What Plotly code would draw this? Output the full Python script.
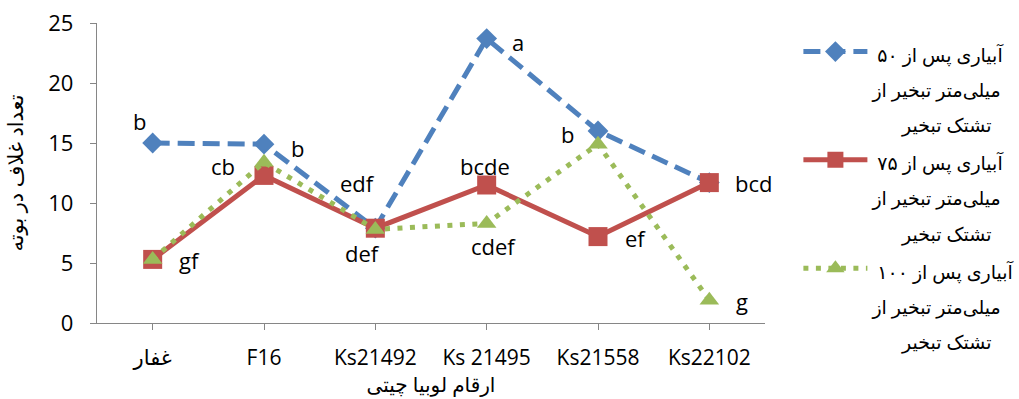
import plotly.graph_objects as go

# Cultivars of pinto bean (x axis)
cultivars = ["غفار", "F16", "Ks21492", "Ks 21495", "Ks21558", "Ks22102"]

# Pods per plant under three irrigation regimes
pods_50 = [15.0, 14.9, 7.9, 23.7, 16.0, 11.7]
pods_75 = [5.3, 12.3, 7.9, 11.5, 7.2, 11.7]
pods_100 = [5.3, 13.4, 7.8, 8.3, 14.9, 1.9]

# Mean-comparison letters (empty string = no letter drawn)
letters_50 = ["b", "b", "edf", "a", "b", ""]
letters_75 = ["gf", "", "def", "bcde", "ef", "bcd"]
letters_100 = ["", "cb", "", "cdef", "", "g"]

series_names = [
    ["آبیاری پس از ۵۰", "میلی‌متر تبخیر از", "تشتک تبخیر"],
    ["آبیاری پس از ۷۵", "میلی‌متر تبخیر از", "تشتک تبخیر"],
    ["آبیاری پس از ۱۰۰", "میلی‌متر تبخیر از", "تشتک تبخیر"],
]

BLUE = "#4F81BD"
RED = "#C0504D"
GREEN = "#9BBB59"
AXIS = "#868686"
FONT = "Open Sans, DejaVu Sans, sans-serif"

# pixel offsets of each letter from its point
offsets_50 = [(-13, -22), (33, 4), (-18, -45), (31, 3), (-31, 3), (0, 0)]
offsets_75 = [(37, 1), (0, 0), (-13, 25), (-2, -19), (37, 1), (44, 0)]
offsets_100 = [(0, 0), (-41, 4), (0, 0), (7, 23), (0, 0), (33, 1)]

# leading no-break spaces push the shorter lines so their right edges line up
PAD = [1, 0, 6]


def legend_name(lines):
    return "<br>".join(
        '<span style="font-size:19px">%s%s</span>' % ("\u00a0" * p, ln)
        for p, ln in zip(PAD, lines)
    )


fig = go.Figure()
fig.add_trace(go.Scatter(
    x=cultivars, y=pods_50, mode="lines+markers", name=legend_name(series_names[0]),
    line=dict(color=BLUE, width=5, dash="17px,8px"),
    marker=dict(symbol="diamond", size=16, color=BLUE),
))
fig.add_trace(go.Scatter(
    x=cultivars, y=pods_75, mode="lines+markers", name=legend_name(series_names[1]),
    line=dict(color=RED, width=5),
    marker=dict(symbol="square", size=19, color=RED),
))
fig.add_trace(go.Scatter(
    x=cultivars, y=pods_100, mode="lines+markers", name=legend_name(series_names[2]),
    line=dict(color=GREEN, width=5, dash="5px,7.5px"),
    marker=dict(symbol="triangle-up", size=17, color=GREEN),
))

annotations = []
for vals, labs, offs in [(pods_50, letters_50, offsets_50),
                         (pods_75, letters_75, offsets_75),
                         (pods_100, letters_100, offsets_100)]:
    for cat, v, lab, (dx, dy) in zip(cultivars, vals, labs, offs):
        if not lab:
            continue
        annotations.append(dict(
            x=cat, y=v, xref="x", yref="y", text=lab, showarrow=False,
            xshift=dx, yshift=-dy, font=dict(family=FONT, size=22, color="black"),
        ))

fig.update_layout(
    width=1019, height=399,
    margin=dict(l=97, r=254, t=23, b=76, autoexpand=False),
    paper_bgcolor="white", plot_bgcolor="white",
    font=dict(family=FONT, size=22, color="black"),
    showlegend=True,
    legend=dict(
        x=1.05, y=0.985, xanchor="left", yanchor="top",
        font=dict(family=FONT, size=27, color="black"),
        valign="top", itemwidth=64, tracegroupgap=0,
        bgcolor="rgba(0,0,0,0)", maxheight=390,
    ),
    annotations=annotations,
)
fig.update_xaxes(
    type="category", range=[-0.5, 5.5],
    showline=True, linecolor=AXIS, linewidth=1.3,
    ticks="outside", ticklen=6, tickcolor=AXIS, tickwidth=1.3,
    showgrid=False, zeroline=False, ticklabelstandoff=10,
    tickfont=dict(family=FONT, size=21),
    title=dict(text="ارقام لوبیا چیتی", font=dict(family=FONT, size=20), standoff=2),
)
fig.update_yaxes(
    range=[0, 25], dtick=5,
    showline=True, linecolor=AXIS, linewidth=1.3,
    ticks="outside", ticklen=6, tickcolor=AXIS, tickwidth=1.3,
    showgrid=False, zeroline=False, ticklabelstandoff=12,
    tickfont=dict(family=FONT, size=22),
    title=dict(text="تعداد غلاف در بوته", font=dict(family=FONT, size=21), standoff=18),
)

fig.write_html("out.html")
